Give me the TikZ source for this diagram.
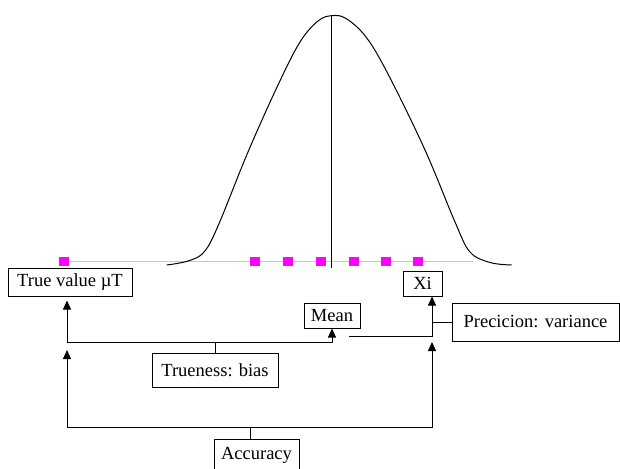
\documentclass[tikz,border=0pt]{standalone}
\usepackage{fontspec}
\setmainfont{Liberation Serif}
\usetikzlibrary{arrows.meta}

\definecolor{dotpink}{RGB}{255,0,255}
\tikzset{
  box/.style={draw, line width=1pt, inner sep=0pt, font=\fontsize{18.5}{22}\selectfont},
  arr/.style={line width=1pt, -{Triangle[length=9pt,width=8pt]}},
  dot/.style={fill=dotpink, minimum width=10pt, minimum height=9pt, inner sep=0pt}
}

\begin{document}
\begin{tikzpicture}[x=1pt, y=-1pt]
  \useasboundingbox (0,0) rectangle (620,468);
  % axis and samples
  \draw[line width=1pt, black!22] (64,261) -- (473,261);
  \foreach \xx [count=\i] in {64,255,288,321,354,386,418}
    \node[dot] (s\i) at (\xx,261) {};
  % bell curve and mean line
  \draw[line width=1pt] plot[smooth, tension=0.6] coordinates {
    (166.7,265) (188,261) (204,252) (218,226)
    (248,152) (278,85) (300,42) (318,21) (331.7,15.7)
    (346,18.5) (366,37) (388,74) (425,150) (455,222)
    (470,252) (490,262.5) (511.7,265)};
  \draw[line width=1pt] (331.7,16) -- (331.7,268);

  % labels
  \node[box, minimum width=124pt, minimum height=28pt] (tv) at (70,282) {True value µT};
  \node[box, minimum width=39pt, minimum height=25pt] (xi) at (422.5,283.5) {Xi};
  \node[box, minimum width=56pt, minimum height=25pt] (mean) at (332,315.5) {Mean};
  \node[box, minimum width=167pt, minimum height=38pt] (prec) at (535.5,322) {Precicion: variance};
  \node[box, minimum width=126pt, minimum height=34pt] (tb) at (215,370) {Trueness: bias};
  \node[box, minimum width=85pt, minimum height=32pt] (acc) at (256.5,455) {Accuracy};

  % connectors
  \coordinate (j1) at (215,342);
  \coordinate (j2) at (250,427);
  \coordinate (a1) at (67,350);
  \coordinate (a2) at (432,342);
  \coordinate (pm) at (349,336);
  \coordinate (px) at (432,336);
  \draw[line width=1pt] (tb.north) -- (j1);
  \draw[arr] (j1) -| ([yshift=-4pt]tv.south -| a1);
  \draw[arr] (j1) -| (mean.south);
  \draw[line width=1pt] (j2 |- acc.north) -- (j2);
  \draw[arr] (j2) -| (a1);
  \draw[arr] (j2) -| (a2);
  \draw[arr] (pm) -- (px) -- (px |- xi.south);
  \draw[line width=1pt] (prec.west) -- (prec.west -| px);
\end{tikzpicture}
\end{document}
